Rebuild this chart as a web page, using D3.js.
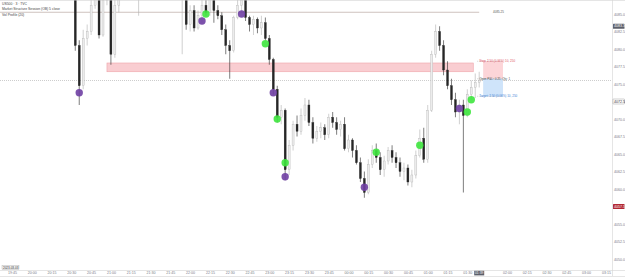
<!DOCTYPE html>
<html>
<head>
<meta charset="utf-8">
<script src="https://cdn.jsdelivr.net/npm/d3@7"></script>
<style>
body { margin: 0; background: #fff; }
svg { display: block; font-family: "Liberation Sans", Arial, sans-serif; }
.axis text { fill: #787b86; font-size: 3.6px; }
.axis path, .axis line { stroke: none; }
</style>
</head>
<body>
<div class="container"></div>
<script>
const WIDTH = 625;
const HEIGHT = 278;
const PLOT_W = 612;
const PLOT_H = 270;

// [open, high, low, close], 3 min bars
var candles = [
  [4089.75,4091.25,4087.75,4088.5],[4088.5,4091.25,4088.25,4090.5],[4090.5,4092,4088.75,4089.25],
  [4089.25,4092,4088.75,4091.25],[4091.25,4092.75,4089.25,4089.75],[4089.75,4090.5,4087.75,4088.5],
  [4088.5,4090.25,4087.5,4089.5],[4089.5,4090.5,4087.25,4088.25],[4088.25,4089.75,4087.25,4089.25],
  [4089.25,4091.25,4088.5,4090.5],[4090.5,4091.25,4088.25,4088.75],[4088.75,4090.5,4087.75,4089.75],
  [4089.75,4090.25,4087.25,4088.25],[4088.25,4089.5,4087.25,4089],[4089,4089.5,4087.5,4087.75],
  [4087.75,4089.25,4087.25,4088.75],[4088.75,4089.25,4087.5,4088.25],[4088.25,4089,4087.25,4087.75],
  [4087.75,4088.25,4079.75,4080.5],[4080.5,4081.25,4072,4074.75],[4074.75,4082.75,4074.25,4081.5],
  [4081.5,4083.5,4080.5,4082.5],[4082.5,4087.75,4082,4086.25],[4086.25,4089.25,4085.75,4088.5],
  [4088.5,4088.75,4081.5,4082],[4082,4087.75,4081.75,4087],[4087,4089.75,4086.25,4088.5],
  [4088.5,4088.75,4077.75,4079.25],[4079.25,4087,4078.75,4086.25],[4086.25,4089.25,4085.25,4088.5],
  [4088.5,4091,4087.75,4090.25],[4090.25,4092,4089.5,4091.5],[4091.5,4092.5,4089.75,4090.25],
  [4090.25,4091,4087.5,4088],[4087.75,4089,4084.75,4088.75],[4088.75,4090.5,4088,4090],
  [4090,4092,4089.5,4091.5],[4091.5,4093.25,4091,4092.75],[4092.75,4094,4092,4093.5],
  [4093.5,4094.5,4092.25,4092.75],[4092.75,4093.5,4091,4091.5],[4091.5,4092.25,4090,4090.5],
  [4090.5,4091.25,4089,4089.5],[4089.5,4090,4088,4088.5],[4088.5,4089.25,4087.5,4088.25],
  [4088.25,4090,4079.25,4089.25],[4089.25,4089.75,4082.75,4083.5],[4083.5,4086.25,4082.5,4085.5],
  [4085.5,4086.25,4082.5,4083],[4083,4085.5,4082.75,4084.75],[4084.75,4087,4083.75,4086.25],
  [4086.25,4087.75,4084.75,4085.25],[4085.25,4088.5,4084.75,4087.75],[4087.75,4088.5,4083.75,4085.5],
  [4085.5,4086.25,4084.25,4084.75],[4084.75,4085.25,4082,4082.75],[4082.75,4083.5,4079.25,4080.5],
  [4080.5,4081.25,4075.75,4079.75],[4079.75,4084.75,4079.5,4084.5],[4084.5,4087,4084.25,4086.25],
  [4086.25,4087.75,4085.25,4087],[4087,4087.25,4084,4084.5],[4084.5,4084.75,4082.5,4083.5],
  [4083.5,4084.75,4082,4084.25],[4084.25,4084.5,4082.25,4083],[4083,4084.75,4082,4083.75],
  [4083.75,4084.5,4081.25,4081.5],[4081.5,4082,4077.75,4078.5],[4078.5,4078.75,4073.5,4074.25],
  [4074.25,4074.75,4069.5,4070.25],[4070.25,4072,4069.25,4071.25],[4071.25,4071.5,4061.25,4062.75],
  [4062.75,4067,4062,4066.25],[4066.25,4069.75,4065.5,4069.25],[4069.25,4070.5,4067.5,4068.25],
  [4068.25,4071.5,4067.75,4070.5],[4070.5,4073,4069.75,4072],[4072,4072.75,4069,4069.5],
  [4069.5,4070.25,4066.5,4067.25],[4067.25,4069,4066.75,4068.25],[4068.25,4069.5,4067.25,4068.75],
  [4068.75,4069.25,4067,4067.75],[4067.75,4070.75,4067.25,4070.25],[4070.25,4071,4068.75,4069.5],
  [4069.5,4070.25,4067.75,4068.5],[4068.5,4069.75,4067.5,4069.25],[4069.25,4070.25,4065.5,4065.75],
  [4065.75,4067.75,4065.25,4067],[4067,4067.25,4064.5,4065.5],[4065.5,4066.25,4063.5,4063.75],
  [4063.75,4064.5,4061,4061.5],[4061.5,4062.5,4058.75,4059.5],[4059.5,4064.25,4059.25,4063.5],
  [4063.5,4066.25,4063,4065.5],[4065.5,4066.5,4063.75,4064.5],[4064.5,4065.25,4062,4062.75],
  [4062.75,4064.75,4061.75,4064],[4064,4066,4063.5,4065.5],[4065.5,4066.25,4063.75,4064.5],
  [4064.5,4065.25,4063,4063.75],[4063.75,4064.5,4061.75,4062.5],[4062.5,4063.75,4061.25,4063],
  [4063,4063.5,4060.5,4061],[4061,4062.75,4060.25,4062],[4062,4065.5,4061.5,4064.75],
  [4064.75,4068.5,4064.5,4067.25],[4067.25,4068.75,4063.75,4064.25],[4064.25,4072,4063.75,4071.25],
  [4071.25,4079.75,4071,4079.25],[4079.25,4083.5,4078.75,4082.5],[4082.5,4083.25,4079.75,4080.5],
  [4080.5,4081.25,4076.25,4077],[4077,4078.25,4074.25,4074.75],[4074.75,4075.75,4072,4072.75],
  [4072.75,4073.75,4070.25,4071],[4071,4072.75,4069.25,4072],[4072,4072.75,4059.5,4070.5],
  [4070.5,4074.25,4070.25,4073.5],[4073.5,4075.5,4072.75,4074.5],[4074.5,4076.5,4073,4075.25],
  [4075.25,4076.75,4074.5,4075.5]
];

var timeLabels = ["19:45","20:00","20:15","20:30","20:45","21:00","21:15","21:30","21:45","22:00",
  "22:15","22:30","22:45","23:00","23:15","23:30","23:45","00:00","00:15","00:30","00:45","01:00",
  "01:15","01:30","01:45","02:00","02:15","02:30","02:45","03:00","03:15"];
var currentTime = "01:39";
var priceTicks = [4085,4082.5,4080,4077.5,4075,4072.5,4070,4067.5,4065,4062.5,4060,4057.5,4055,4052.5,4050];

// [bar index, price]
var purpleDots = [[19,4073.75],[50,4084],[60,4085],[68,4073.75],[71,4061.75],[91,4060.25],[115,4071.5]];
var greenDots = [[51,4085],[66,4080.75],[69,4070],[71,4063.75],[94,4065.25],[105,4066.25],[117,4071],[118,4072.75]];

var levelPrice = 4085.25;
var zoneBars = [26, 118.5];
var zonePrices = [4076.75, 4078];
var posBars = [121, 126];
var posStop = 4078.25, posEntry = 4075.75, posTarget = 4073.25;
var axisMarks = [4083.25, 4072.5, 4057.5];
var headerLines = ["US500 · 3 · TVC", "Market Structure Session (OB) 5 close", "Vol Profile (20)"];

var svg = d3.select('.container').append('svg')
  .attr('width', WIDTH)
  .attr('height', HEIGHT);

var x = d3.scaleLinear().domain([0, 150]).range([4, 4 + 3.96 * 150]);
var y = d3.scaleLinear().domain([4087, 4087 - PLOT_H / 7]).range([0, PLOT_H]);

svg.append('clipPath').attr('id', 'plot')
  .append('rect').attr('width', PLOT_W).attr('height', PLOT_H);

var g = svg.append('g').attr('clip-path', 'url(#plot)');

// supply zone
g.append('rect')
  .attr('x', x(zoneBars[0])).attr('width', x(zoneBars[1]) - x(zoneBars[0]))
  .attr('y', y(zonePrices[1])).attr('height', y(zonePrices[0]) - y(zonePrices[1]))
  .attr('fill', '#f9cdd1').attr('stroke', '#eea4aa').attr('stroke-width', 0.6);

// level line + current price line
g.append('line')
  .attr('x1', 0).attr('x2', x(posBars[0] - 1))
  .attr('y1', y(levelPrice)).attr('y2', y(levelPrice))
  .attr('stroke', '#b9a9a2').attr('stroke-width', 0.7);
var last = candles[candles.length - 1];
g.append('line')
  .attr('x1', 0).attr('x2', PLOT_W)
  .attr('y1', y(last[3])).attr('y2', y(last[3]))
  .attr('stroke', '#9a9a9a').attr('stroke-width', 0.5).attr('stroke-dasharray', '1,1');

// position tool
g.append('rect')
  .attr('x', x(posBars[0])).attr('width', x(posBars[1]) - x(posBars[0]))
  .attr('y', y(posStop)).attr('height', y(posEntry) - y(posStop))
  .attr('fill', '#fcd5d8');
g.append('rect')
  .attr('x', x(posBars[0])).attr('width', x(posBars[1]) - x(posBars[0]))
  .attr('y', y(posEntry)).attr('height', y(posTarget) - y(posEntry))
  .attr('fill', '#cfe4fa');
[posStop, posEntry, posTarget].forEach(function(p) {
  g.append('line')
    .attr('x1', x(posBars[0] - 1.5)).attr('x2', x(posBars[1]))
    .attr('y1', y(p)).attr('y2', y(p))
    .attr('stroke', '#888').attr('stroke-width', 0.4).attr('stroke-dasharray', '0.8,0.8');
});
var posText = [[posStop, '#e0505e', 'Stop: 2.50 (0.06%) 10, 250'],
  [posEntry, '#555', 'Open P&L: 0.25, Qty: 1'],
  [posTarget, '#3b82d6', 'Target: 2.50 (0.06%) 10, 250']];
posText.forEach(function(t) {
  g.append('text')
    .attr('x', x(posBars[0] - 1)).attr('y', y(t[0]) + 1.2)
    .attr('font-size', 3).attr('fill', t[1]).text(t[2]);
});
g.append('text')
  .attr('x', x(posBars[0] + 2.5)).attr('y', y(levelPrice) + 1.2)
  .attr('font-size', 3).attr('fill', '#555').text('4085.25');

// candles
var bars = g.selectAll('.bar').data(candles).enter().append('g').classed('bar', true);
var col = function(d) { return d[3] >= d[0] ? '#b0b0b0' : '#262626'; };
bars.append('line')
  .attr('x1', (d, i) => x(i)).attr('x2', (d, i) => x(i))
  .attr('y1', d => y(d[1])).attr('y2', d => y(d[2]))
  .attr('stroke', col).attr('stroke-width', 0.6);
bars.append('rect')
  .attr('x', (d, i) => x(i) - 1).attr('width', 2)
  .attr('y', d => y(Math.max(d[0], d[3])))
  .attr('height', d => Math.max(0.6, Math.abs(y(d[0]) - y(d[3]))))
  .attr('fill', d => d[3] >= d[0] ? '#ececec' : '#262626')
  .attr('stroke', col).attr('stroke-width', 0.35);

// structure dots
var dots = function(list, fill) {
  g.selectAll(null).data(list).enter().append('circle')
    .attr('cx', d => x(d[0])).attr('cy', d => y(d[1]))
    .attr('r', 3.7).attr('fill', fill).attr('fill-opacity', 0.9);
};
dots(purpleDots, '#6f3fa3');
dots(greenDots, '#3ee63e');

// header
headerLines.forEach(function(t, i) {
  svg.append('text').attr('x', 2).attr('y', 4.5 + i * 5.5)
    .attr('font-size', 3.4).attr('fill', '#444').text(t);
});

// frame
svg.append('line').attr('x1', 0).attr('x2', WIDTH).attr('y1', 0.3).attr('y2', 0.3)
  .attr('stroke', '#c8c8c8').attr('stroke-width', 0.6);
svg.append('line').attr('x1', 0).attr('x2', WIDTH).attr('y1', PLOT_H + 0.5).attr('y2', PLOT_H + 0.5)
  .attr('stroke', '#d4d4d4').attr('stroke-width', 0.6);
svg.append('line').attr('x1', PLOT_W + 0.5).attr('x2', PLOT_W + 0.5).attr('y1', 0).attr('y2', HEIGHT - 2)
  .attr('stroke', '#d4d4d4').attr('stroke-width', 0.6);
svg.append('line').attr('x1', 0).attr('x2', WIDTH).attr('y1', HEIGHT - 1.5).attr('y2', HEIGHT - 1.5)
  .attr('stroke', '#d4d4d4').attr('stroke-width', 0.6);

// price axis
var yAxis = d3.axisRight(y).tickValues(priceTicks).tickSize(0).tickPadding(2)
  .tickFormat(d => d.toFixed(1));
svg.append('g').classed('axis', true)
  .attr('transform', `translate(${PLOT_W},0)`)
  .call(yAxis);

var markFill = ['#5d606b', '#ffffff', '#b22834'];
var markText = ['#ffffff', '#333333', '#ffffff'];
axisMarks.forEach(function(p, i) {
  svg.append('rect').attr('x', PLOT_W + 1).attr('y', y(p) - 2.5)
    .attr('width', 11.5).attr('height', 5).attr('rx', 0.5)
    .attr('fill', markFill[i]).attr('stroke', i === 1 ? '#888' : 'none').attr('stroke-width', 0.4);
  svg.append('text').attr('x', PLOT_W + 2).attr('y', y(p) + 1.2)
    .attr('font-size', 3.6).attr('fill', markText[i]).text(p.toFixed(1));
});

// time axis
var tickIdx = timeLabels.map((t, k) => 2 + 5 * k);
var lastIdx = candles.length - 1;
var xAxis = d3.axisBottom(x)
  .tickValues(tickIdx.filter(i => Math.abs(x(i) - x(lastIdx)) > 9))
  .tickSize(0).tickPadding(1.8)
  .tickFormat(i => timeLabels[(i - 2) / 5]);
svg.append('g').classed('axis', true)
  .attr('transform', `translate(0,${PLOT_H})`)
  .call(xAxis);
svg.append('rect').attr('x', x(lastIdx) - 5).attr('y', PLOT_H + 0.8)
  .attr('width', 10).attr('height', 4.6).attr('fill', '#5d606b');
svg.append('text').attr('x', x(lastIdx)).attr('y', PLOT_H + 4.2)
  .attr('text-anchor', 'middle').attr('font-size', 3.4).attr('fill', '#fff').text(currentTime);

// date box bottom-left
svg.append('rect').attr('x', 2).attr('y', 265.5).attr('width', 17).attr('height', 4)
  .attr('fill', '#f0f0f0').attr('stroke', '#999').attr('stroke-width', 0.3);
svg.append('text').attr('x', 3).attr('y', 268.6).attr('font-size', 3).attr('fill', '#333').text('2023-03-03');
</script>
</body>
</html>
